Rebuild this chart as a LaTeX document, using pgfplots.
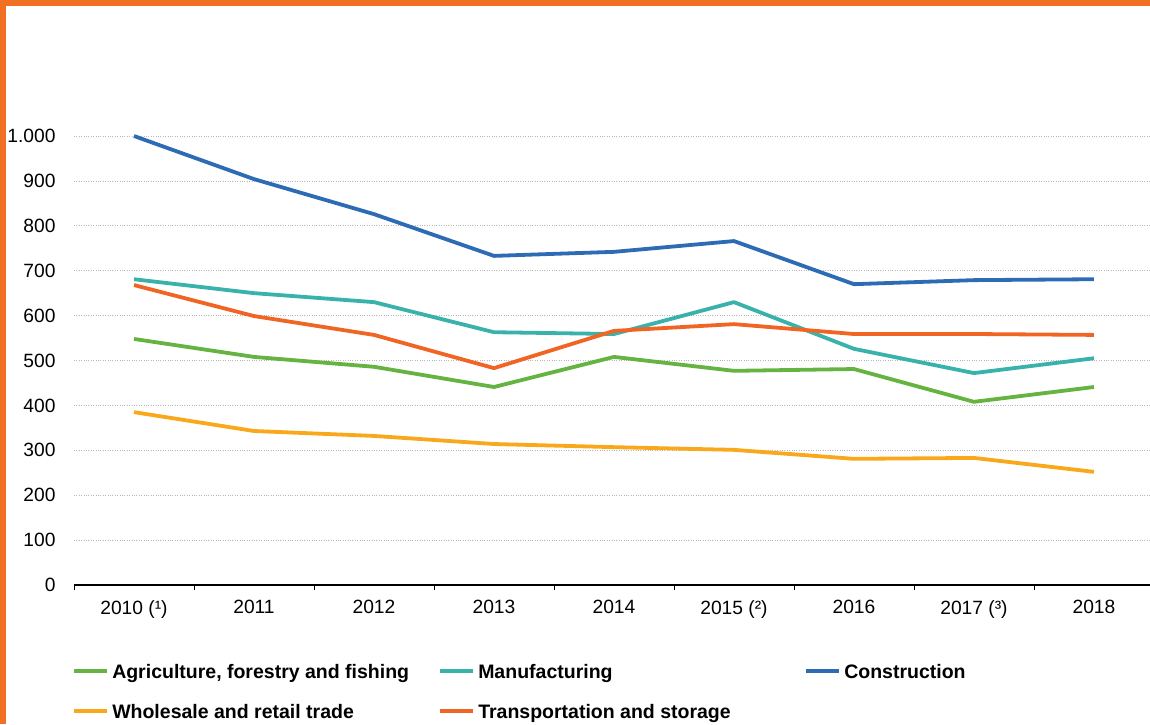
\documentclass[border=0pt]{standalone}
\usepackage{pgfplots}
\pgfplotsset{compat=1.18}
\usepackage{fontspec}
\setmainfont{Liberation Sans}
\definecolor{agri}{RGB}{101,180,66}
\definecolor{manu}{RGB}{57,178,172}
\definecolor{constr}{RGB}{45,108,180}
\definecolor{whole}{RGB}{250,168,27}
\definecolor{trans}{RGB}{240,101,35}
\definecolor{frame}{RGB}{242,112,36}
\begin{document}
\begin{tikzpicture}[x=1pt,y=1pt]
\path[use as bounding box] (0,0) rectangle (1150,724);
\begin{axis}[
  at={(74pt,139pt)}, anchor=south west,
  scale only axis, width=1080pt, height=449pt,
  xmin=-0.5, xmax=8.5, ymin=0, ymax=1000,
  clip=false,
  axis x line*=bottom, axis y line*=left,
  x axis line style={-, black, line width=1.1pt},
  y axis line style={draw=none},
  xtick={-0.5,0.5,...,8.5},
  xticklabels={,,,,,,,,,,},
  tick align=outside,
  major tick length=5pt,
  x tick style={black, line width=0.8pt},
  extra x ticks={0,1,2,3,4,5,6,7,8},
  extra x tick labels={2010 (¹),2011,2012,2013,2014,2015 (²),2016,2017 (³),2018},
  extra x tick style={major tick length=0pt, xticklabel style={yshift=-12pt}},
  ytick={0,100,...,1000},
  y tick style={draw=none},
  ymajorgrids,
  grid style={dotted, color=black!28, line width=0.7pt},
  yticklabel style={xshift=-10pt},
  /pgf/number format/.cd, 1000 sep={.}, assume math mode=true,
  /pgfplots/.cd,
  tick label style={font=\fontsize{19.2}{23}\selectfont},
  legend cell align=left,
  legend columns=3,
  legend style={at={(-0.0018,-0.173)}, anchor=north west, draw=none, fill=none,
    inner sep=0pt, nodes={inner sep=0pt},
    font=\bfseries\fontsize{19.5}{22}\selectfont,
    row sep=23pt,
    /tikz/every odd column/.append style={column sep=3pt},
    /tikz/every even column/.append style={column sep=0pt}},
  legend image code/.code={\draw[line width=4pt] (0pt,0pt) -- (33pt,0pt);},
  every axis plot/.append style={line width=3.8pt, line join=round},
]
\addplot[agri] coordinates {(0,548) (1,508) (2,486) (3,441) (4,508) (5,477) (6,481) (7,408) (8,441)};
\addlegendentry{\makebox[326pt][l]{\strut Agriculture, forestry and fishing}}
\addplot[manu] coordinates {(0,681) (1,650) (2,630) (3,563) (4,559) (5,630) (6,526) (7,472) (8,505)};
\addlegendentry{\makebox[326pt][l]{\strut Manufacturing}}
\addplot[constr] coordinates {(0,1000) (1,904) (2,826) (3,733) (4,742) (5,766) (6,670) (7,679) (8,681)};
\addlegendentry{\makebox[326pt][l]{\strut Construction}}
\addplot[whole] coordinates {(0,385) (1,343) (2,332) (3,314) (4,307) (5,301) (6,281) (7,283) (8,252)};
\addlegendentry{\makebox[326pt][l]{\strut Wholesale and retail trade}}
\addplot[trans] coordinates {(0,668) (1,599) (2,557) (3,483) (4,566) (5,581) (6,559) (7,559) (8,557)};
\addlegendentry{\makebox[326pt][l]{\strut Transportation and storage}}
\end{axis}
\fill[frame] (0,718) rectangle (1150,724);
\fill[frame] (0,0) rectangle (6,724);
\end{tikzpicture}
\end{document}
